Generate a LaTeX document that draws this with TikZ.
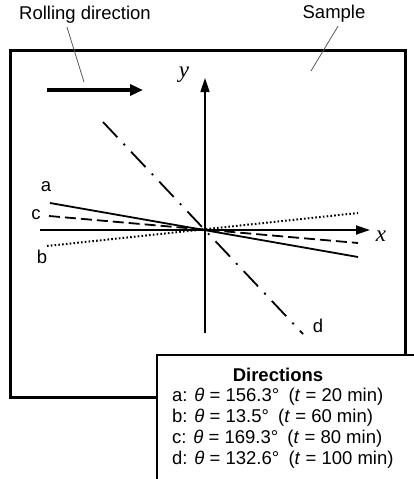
\documentclass[tikz,border=0pt]{standalone}
\usepackage{fontspec}
\setmainfont{Liberation Sans}
\newfontfamily\axisfont{Liberation Serif}
\usetikzlibrary{arrows.meta, positioning}
\tikzset{
  leader/.style={draw=black!65, line width=0.8pt},
  dirline/.style={line width=1.8pt},
  dashc/.style={dash pattern=on 11pt off 5pt},
  dotb/.style={line width=2pt, dash pattern=on 1.6pt off 2.2pt},
  dashd/.style={dash pattern=on 21pt off 9pt on 2pt off 9pt},
  axislbl/.style={font=\fontsize{23}{23}\selectfont\axisfont\itshape},
  axistip/.style={-{Triangle[length=14pt,width=9pt]}}
}

\begin{document}
\begin{tikzpicture}[x=1pt, y=-1pt, font=\fontsize{18.5}{22}\selectfont]
  \useasboundingbox (0,0) rectangle (414,479);

  % ── Sample plate ────────────────────────────────────────────────
  \draw[line width=3pt] (10,50) rectangle (405,397);

  \node (rolltxt)   at (85,15)  {Rolling direction};
  \node (sampletxt) at (334,14) {Sample};
  \coordinate (rollend)   at (84,82);
  \coordinate (sampleend) at (311,71);
  \draw[leader] ([xshift=-18pt]rolltxt.south) -- (rollend);
  \draw[leader] ([xshift=4pt]sampletxt.south) -- (sampleend);

  % rolling direction arrow
  \coordinate (rollA) at (47,90);
  \coordinate (rollB) at (143,90);
  \draw[line width=4.5pt, -{Triangle[length=13pt,width=11pt]}] (rollA) -- (rollB);

  % ── Axes ────────────────────────────────────────────────────────
  \coordinate (O)  at (205,230);
  \coordinate (y0) at (205,333);
  \coordinate (y1) at (205,78);
  \coordinate (x0) at (40,230);
  \coordinate (x1) at (370,230);
  \draw[line width=1.5pt, axistip] (y0) -- (y1);
  \draw[line width=1.8pt, axistip] (x0) -- (x1);
  \node[axislbl] (ylbl) at (184,75)  {y};
  \node[axislbl] (xlbl) at (381,236) {x};

  % ── Directions a-d ──────────────────────────────────────────────
  \foreach \nm/\sx/\sy/\ex/\ey/\sty in {a/50/203/358/257/solid,
                                        c/49/216/358/243/dashc,
                                        b/47/246/358/213/dotb,
                                        d/103/122/303/334/dashd}
    { \draw[dirline, \sty] (\sx,\sy) coordinate (\nm1) -- (\ex,\ey) coordinate (\nm2); }

  \foreach \nm/\px/\py in {a/46/187, c/36/215, b/42/257, d/318/326}
    { \node (l\nm) at (\px,\py) {\nm}; }

  % ── Legend ──────────────────────────────────────────────────────
  \draw[line width=1.5pt, fill=white] (157,355) rectangle (430,500);
  \node (dirtitle) at (278,375) {\bfseries Directions};
  \foreach \i/\txt in {1/{a: \textit{θ} = 156.3°\enspace(\textit{t} = 20 min)},
                       2/{b: \textit{θ} = 13.5°\enspace(\textit{t} = 60 min)},
                       3/{c: \textit{θ} = 169.3°\enspace(\textit{t} = 80 min)},
                       4/{d: \textit{θ} = 132.6°\enspace(\textit{t} = 100 min)}}
    { \node[anchor=west, inner sep=0pt] (dir\i) at (172,376+21*\i) {\txt}; }
\end{tikzpicture}
\end{document}
